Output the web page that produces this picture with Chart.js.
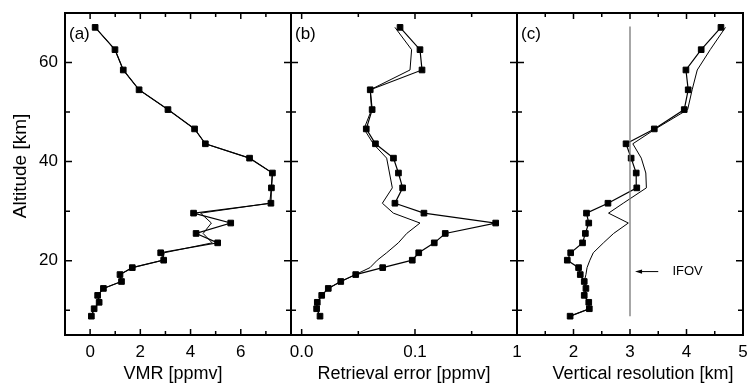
<!DOCTYPE html>
<html><head><meta charset="utf-8">
<script src="https://cdn.jsdelivr.net/npm/chart.js@4/dist/chart.umd.min.js"></script>
<style>
html,body{margin:0;padding:0;background:#fff;}
#wrap{position:relative;width:750px;height:385px;background:#fff;}
#wrap canvas{position:absolute;left:0;top:0;}
</style></head><body>
<div id="wrap">
<canvas id="ca" width="750" height="385"></canvas>
<canvas id="cb" width="750" height="385"></canvas>
<canvas id="cc" width="750" height="385"></canvas>
</div>
<script>
// ---- data ----
const altitude   = [8.8, 10.3, 11.6, 13.0, 14.4, 15.8, 17.2, 18.6, 20.1, 21.6, 23.6, 25.5, 27.6, 29.6, 31.6, 34.7, 37.7, 40.7, 43.6, 46.6, 50.5, 54.5, 58.5, 62.6, 67.1];
const vmrSquares = [0.05,0.16,0.36,0.30,0.53,1.25,1.19,1.68,2.93,2.81,5.08,4.22,5.60,4.12,7.20,7.22,7.26,6.35,4.59,4.16,3.10,1.95,1.32,0.99,0.20];
const vmrLine    = [0.05,0.16,0.36,0.30,0.53,1.25,1.19,1.68,2.90,2.95,4.86,4.50,4.83,4.40,7.15,7.22,7.26,6.35,4.59,4.16,3.10,1.95,1.32,0.99,0.20];
const errSquares = [0.0162,0.0132,0.0138,0.0177,0.0235,0.0345,0.0477,0.0715,0.0976,0.1033,0.1170,0.1267,0.1712,0.1079,0.0823,0.0891,0.0854,0.0810,0.0651,0.0570,0.0622,0.0605,0.1062,0.1044,0.0868];
const errLine    = [0.0162,0.0132,0.0138,0.0177,0.0235,0.0345,0.0475,0.0603,0.0667,0.0750,0.0853,0.0927,0.1044,0.0809,0.0712,0.0800,0.0775,0.0750,0.0632,0.0550,0.0617,0.0605,0.0956,0.0970,0.0823];
const resSquares = [1.94,2.28,2.27,2.19,2.22,2.19,2.12,2.09,1.89,1.95,2.16,2.21,2.27,2.23,2.61,3.12,3.11,3.02,2.93,3.43,3.96,4.03,3.99,4.26,4.61];
const resLine    = [1.94,2.28,2.27,2.19,2.22,2.19,2.22,2.24,2.29,2.35,2.53,2.71,2.97,2.62,2.88,3.29,3.28,3.20,3.05,3.45,4.02,4.10,4.19,4.42,4.69];
const ifovValue = 3;
const ifovAltitudes = [8.8, 67.3];
const ifovArrowAltitude = 17.8;

// tick labels
const altTickLabels = [20, 40, 60];
const vmrTickLabels = [0, 2, 4, 6];
const errTickLabels = [0, 0.1];
const resTickLabels = [1, 2, 3, 4, 5];

const FONT = "'Liberation Sans', Arial, Helvetica, sans-serif";
Chart.defaults.font.family = FONT;
Chart.defaults.color = '#000';

function pts(xs) { return xs.map((x, i) => ({x: x, y: altitude[i]})); }
function inList(list, v) { return list.some(t => Math.abs(t - v) < 1e-9); }

const framePlugin = {
  id: 'frame',
  afterDatasetsDraw(chart, args, o) {
    const ctx = chart.ctx, a = chart.chartArea;
    const xs = chart.scales.x, ys = chart.scales.y;
    ctx.save();
    ctx.strokeStyle = '#000';
    ctx.lineWidth = 1.5;
    ctx.beginPath();
    for (const t of xs.ticks) {
      const px = xs.getPixelForValue(t.value);
      if (px <= a.left + 1 || px >= a.right - 1) continue;
      const len = inList(o.xLabels, t.value) ? 6 : 4;
      ctx.moveTo(px, a.bottom); ctx.lineTo(px, a.bottom - len);
      ctx.moveTo(px, a.top); ctx.lineTo(px, a.top + len);
    }
    for (const t of ys.ticks) {
      const py = ys.getPixelForValue(t.value);
      if (py <= a.top + 1 || py >= a.bottom - 1) continue;
      const len = inList(altTickLabels, t.value) ? 7 : 5;
      ctx.moveTo(a.left, py); ctx.lineTo(a.left + len, py);
      ctx.moveTo(a.right, py); ctx.lineTo(a.right - len, py);
    }
    ctx.stroke();
    ctx.lineWidth = 2;
    ctx.strokeRect(a.left, a.top, a.right - a.left, a.bottom - a.top);
    ctx.restore();
  }
};

const notesPlugin = {
  id: 'notes',
  afterDraw(chart, args, o) {
    const ctx = chart.ctx, a = chart.chartArea;
    ctx.save();
    ctx.fillStyle = '#000';
    ctx.textBaseline = 'middle';
    ctx.font = '17px ' + FONT;
    ctx.textAlign = 'left';
    ctx.fillText(o.letter, a.left + 4, a.top + 21);
    ctx.font = '18px ' + FONT;
    ctx.textAlign = 'center';
    ctx.fillText(o.xTitle, (a.left + a.right) / 2 + o.xTitleShift, 374);
    if (o.yTitle) {
      ctx.save();
      ctx.translate(20.6, (a.top + a.bottom) / 2 - 8);
      ctx.rotate(-Math.PI / 2);
      ctx.font = '19px ' + FONT;
      ctx.fillText(o.yTitle, 0, 0);
      ctx.restore();
    }
    if (o.arrow) {
      const xs = chart.scales.x, ys = chart.scales.y;
      const py = ys.getPixelForValue(o.arrow.y);
      const tip = xs.getPixelForValue(o.arrow.tip);
      const tail = xs.getPixelForValue(o.arrow.tail);
      ctx.strokeStyle = '#000';
      ctx.lineWidth = 1;
      ctx.beginPath();
      ctx.moveTo(tip + 5, py); ctx.lineTo(tail, py);
      ctx.stroke();
      ctx.beginPath();
      ctx.moveTo(tip, py); ctx.lineTo(tip + 7, py - 2.2); ctx.lineTo(tip + 7, py + 2.2);
      ctx.closePath(); ctx.fill();
      ctx.font = '13px ' + FONT;
      ctx.textAlign = 'left';
      ctx.fillText(o.arrow.text, xs.getPixelForValue(o.arrow.textAt), py);
    }
    ctx.restore();
  }
};

function lineSet(xs) {
  return { data: pts(xs), showLine: true, borderColor: '#000', borderWidth: 1, pointRadius: 0, pointHoverRadius: 0 };
}
function squareSet(xs) {
  return { data: pts(xs), showLine: true, borderColor: '#000', borderWidth: 1.2,
           pointStyle: 'rect', pointRadius: 4, pointHoverRadius: 4,
           pointBackgroundColor: '#000', pointBorderColor: '#000', pointBorderWidth: 1 };
}

function panel(id, o) {
  return new Chart(document.getElementById(id), {
    type: 'scatter',
    data: { datasets: o.datasets },
    options: {
      responsive: false, animation: false, devicePixelRatio: 1,
      layout: { padding: { left: o.padLeft, right: o.padRight, top: 13, bottom: 0 } },
      plugins: {
        legend: { display: false }, tooltip: { enabled: false },
        frame: { xLabels: o.xLabels },
        notes: { letter: o.letter, xTitle: o.xTitle, xTitleShift: o.xTitleShift, yTitle: o.yTitle, arrow: o.arrow }
      },
      scales: {
        x: {
          type: 'linear', position: 'bottom', min: o.xMin, max: o.xMax,
          grid: { display: false, drawTicks: false }, border: { display: false },
          ticks: { stepSize: o.xStep, includeBounds: false, autoSkip: false, maxRotation: 0, minRotation: 0,
                   padding: 7, font: { size: 17 }, color: '#000',
                   callback: v => inList(o.xLabels, v) ? o.xFmt(v) : '' },
          afterFit: s => { s.height = 50; s.paddingLeft = 0; s.paddingRight = 0; }
        },
        y: {
          type: 'linear', position: 'left', min: 5, max: 70,
          grid: { display: false, drawTicks: false }, border: { display: false },
          ticks: { display: !!o.showY, stepSize: 10, includeBounds: false, autoSkip: false, padding: 7,
                   font: { size: 17 }, color: '#000',
                   callback: v => inList(altTickLabels, v) ? String(v) : '' },
          afterFit: s => { s.width = o.showY ? 65 : 0; s.paddingTop = 0; s.paddingBottom = 0; }
        }
      }
    },
    plugins: [framePlugin, notesPlugin]
  });
}

panel('ca', {
  datasets: [lineSet(vmrLine), squareSet(vmrSquares)],
  padLeft: 0, padRight: 750 - 291, showY: true,
  xMin: -1, xMax: 8, xStep: 1, xLabels: vmrTickLabels, xFmt: v => String(v),
  letter: '(a)', xTitle: 'VMR [ppmv]', xTitleShift: -5, yTitle: 'Altitude [km]'
});
panel('cb', {
  datasets: [lineSet(errLine), squareSet(errSquares)],
  padLeft: 291, padRight: 750 - 517, showY: false,
  xMin: -0.0094, xMax: 0.19, xStep: 0.05, xLabels: errTickLabels, xFmt: v => v.toFixed(1),
  letter: '(b)', xTitle: 'Retrieval error [ppmv]', xTitleShift: 0
});
panel('cc', {
  datasets: [
    { data: ifovAltitudes.map(a => ({x: ifovValue, y: a})), showLine: true, borderColor: '#777', borderWidth: 1.3, pointRadius: 0, pointHoverRadius: 0 },
    lineSet(resLine), squareSet(resSquares)
  ],
  padLeft: 517, padRight: 750 - 743, showY: false,
  xMin: 1, xMax: 5, xStep: 0.5, xLabels: resTickLabels, xFmt: v => String(v),
  letter: '(c)', xTitle: 'Vertical resolution [km]', xTitleShift: 13,
  arrow: { y: ifovArrowAltitude, tip: 3.09, tail: 3.5, textAt: 3.75, text: 'IFOV' }
});
</script>
</body></html>
